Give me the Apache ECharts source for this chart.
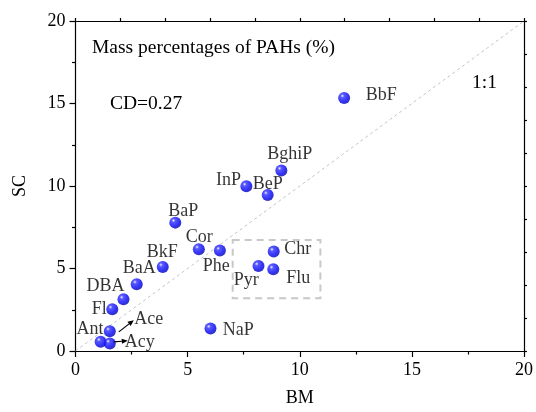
<!DOCTYPE html>
<html>
<head>
<meta charset="utf-8">
<script src="https://cdn.jsdelivr.net/npm/echarts/dist/echarts.min.js"></script>
<style>
  html, body { margin: 0; padding: 0; background: #fff; }
  #chart { width: 536px; height: 412px; }
</style>
</head>
<body>
<div id="chart"></div>
<script>
// PAH species and their mass percentages (%) in the two sample types
const species = ['BbF', 'BghiP', 'InP', 'BeP', 'BaP', 'Cor', 'Phe', 'BkF', 'BaA', 'DBA',
                 'Fl', 'Ant', 'Ace', 'Acy', 'NaP', 'Chr', 'Pyr', 'Flu'];
const bmValues = [11.98, 9.18, 7.62, 8.57, 4.45, 5.50, 6.44, 3.89, 2.73, 2.14,
                  1.64, 1.12, 1.53, 1.53, 6.02, 8.84, 8.16, 8.82];
const scValues = [15.33, 10.94, 9.98, 9.45, 7.78, 6.17, 6.09, 5.09, 4.05, 3.13,
                  2.53, 0.56, 1.20, 0.46, 1.36, 6.03, 5.15, 4.95];
const identityLine = [[0, 0], [20, 20]];
// bounds of the highlighted Chr / Flu / Pyr group: [xMin, yMax, xMax, yMin]
const groupBox = [7.01, 6.72, 10.92, 3.2];
const coefficientOfDivergence = '0.27';

const FONT = "'Liberation Serif', 'Times New Roman', serif";

// label centre offsets (px) from each marker
const labelOffsets = {
  BbF: [37, -3], BghiP: [8.5, -16.3], InP: [-17.8, -5.6], BeP: [0, -11],
  BaP: [8, -11.7], Cor: [0.4, -12], Phe: [-3.6, 15.7], BkF: [-0.5, -14.7],
  BaA: [2.5, -15.6], DBA: [-17.9, -13.4], Fl: [-13.1, 0], Ant: [-10.7, -12.4],
  Ace: [39, -11.7], Acy: [30, -1.6], NaP: [27.7, 2], Chr: [24, -2],
  Pyr: [-12.3, 14.3], Flu: [25, 9.4]
};
// leader arrows (px offsets from the marker: tail -> head)
const leaderArrows = { Ace: [[9, 0.7], [24, -11]], Acy: [[4, -1.6], [18, -2.6]] };

const sphere = new echarts.graphic.RadialGradient(0.35, 0.32, 0.7, [
  { offset: 0, color: '#f0f0ff' },
  { offset: 0.22, color: '#3030ff' },
  { offset: 0.7, color: '#0000f4' },
  { offset: 1, color: '#0000b0' }
]);

const points = species.map((n, i) => ({ name: n, value: [bmValues[i], scValues[i]] }));

const axisText = { color: '#000', fontSize: 18, fontFamily: FONT };
const blackLine = { color: '#000', width: 1.2 };
const noteFont = '19.5px ' + FONT;

const chart = echarts.init(document.getElementById('chart'), null, { renderer: 'canvas' });
chart.setOption({
  animation: false,
  backgroundColor: '#fff',
  grid: { left: 75.5, right: 10.5, top: 21, bottom: 57, containLabel: false },
  xAxis: [
    {
      type: 'value', min: 0, max: 20, interval: 5, position: 'bottom',
      axisLine: { onZero: false, lineStyle: blackLine },
      axisTick: { length: 6, lineStyle: blackLine },
      minorTick: { show: true, splitNumber: 2, length: 3.5, lineStyle: blackLine },
      axisLabel: Object.assign({ margin: 10 }, axisText),
      splitLine: { show: false },
      name: 'BM', nameLocation: 'middle', nameGap: 38, nameTextStyle: axisText
    },
    {
      type: 'value', min: 0, max: 20, interval: 2, position: 'top',
      axisLine: { onZero: false, lineStyle: blackLine },
      axisTick: { length: 3, lineStyle: blackLine },
      axisLabel: { show: false }, splitLine: { show: false }
    }
  ],
  yAxis: [
    {
      type: 'value', min: 0, max: 20, interval: 5, position: 'left',
      axisLine: { onZero: false, lineStyle: blackLine },
      axisTick: { length: 6, lineStyle: blackLine },
      minorTick: { show: true, splitNumber: 2, length: 3.5, lineStyle: blackLine },
      axisLabel: Object.assign({ margin: 10 }, axisText),
      splitLine: { show: false },
      name: 'SC', nameLocation: 'middle', nameGap: 46, nameTextStyle: axisText
    },
    {
      type: 'value', min: 0, max: 20, interval: 2, position: 'right',
      axisLine: { onZero: false, lineStyle: blackLine },
      axisTick: { length: 3, lineStyle: blackLine },
      axisLabel: { show: false }, splitLine: { show: false }
    }
  ],
  series: [
    {
      name: '1:1', type: 'line', data: identityLine, symbol: 'none', silent: true,
      lineStyle: { color: '#c4c4c4', width: 1, type: [3, 3] },
      markArea: {
        silent: true,
        itemStyle: { color: 'rgba(0,0,0,0)', borderColor: '#c8c8c8', borderWidth: 2, borderType: [7, 5] },
        data: [[{ coord: [groupBox[0], groupBox[1]] }, { coord: [groupBox[2], groupBox[3]] }]]
      }
    },
    {
      name: 'PAHs', type: 'scatter', data: points, symbolSize: 12, z: 5,
      itemStyle: { color: sphere },
      label: {
        show: true, position: 'top', formatter: '{b}',
        color: '#000', fontSize: 18, fontFamily: FONT,
        textBorderWidth: 0
      },
      labelLayout: function (params) {
        const off = labelOffsets[species[params.dataIndex]];
        const r = params.rect;
        return {
          x: r.x + r.width / 2 + off[0],
          y: r.y + r.height / 2 + off[1],
          align: 'center', verticalAlign: 'middle', hideOverlap: false
        };
      }
    }
  ],
  graphic: [
    { type: 'text', left: 92, top: 38,
      style: { text: 'Mass percentages of PAHs (%)', fill: '#000', font: noteFont } },
    { type: 'text', left: 110, top: 94,
      style: { text: 'CD=' + coefficientOfDivergence, fill: '#000', font: noteFont } },
    { type: 'text', left: 472, top: 73,
      style: { text: '1:1', fill: '#000', font: noteFont } }
  ]
});

// draw the leader arrows for crowded labels near the origin
const arrowElems = [];
Object.keys(leaderArrows).forEach(n => {
  const i = species.indexOf(n);
  const p = chart.convertToPixel({ xAxisIndex: 0, yAxisIndex: 0 }, [bmValues[i], scValues[i]]);
  const [t, h] = leaderArrows[n];
  const x1 = p[0] + t[0], y1 = p[1] + t[1], x2 = p[0] + h[0], y2 = p[1] + h[1];
  const ang = Math.atan2(y2 - y1, x2 - x1);
  const L = 6, W = 2.6;
  const bx = x2 - L * Math.cos(ang), by = y2 - L * Math.sin(ang);
  arrowElems.push({
    type: 'line', z: 100,
    shape: { x1: x1, y1: y1, x2: bx, y2: by },
    style: { stroke: '#000', lineWidth: 1.2 }
  });
  arrowElems.push({
    type: 'polygon', z: 100,
    shape: { points: [[x2, y2],
      [bx + W * Math.sin(ang), by - W * Math.cos(ang)],
      [bx - W * Math.sin(ang), by + W * Math.cos(ang)]] },
    style: { fill: '#000' }
  });
});
chart.setOption({ graphic: chart.getOption().graphic[0].elements.concat(arrowElems) });
</script>
</body>
</html>
